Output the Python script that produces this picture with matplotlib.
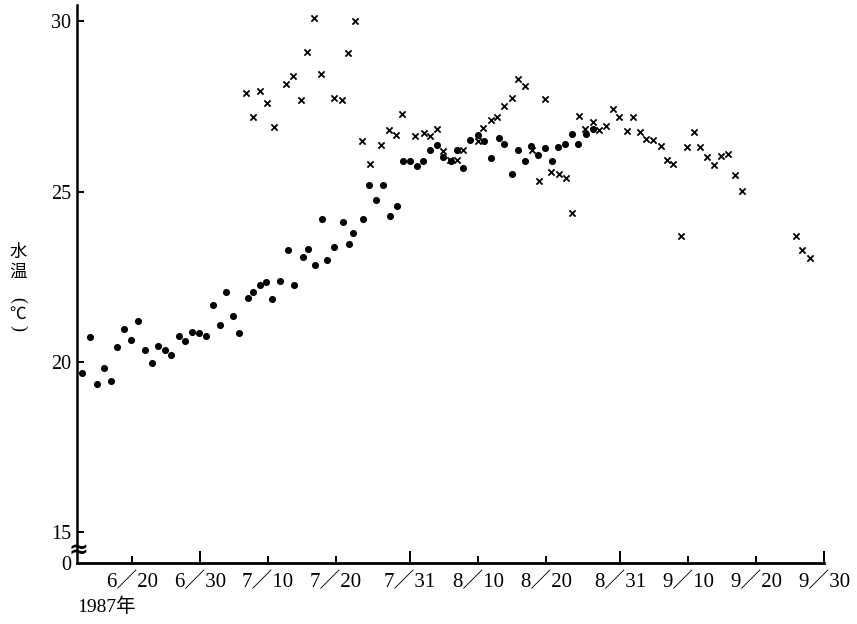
import matplotlib
matplotlib.use("Agg")
import matplotlib.pyplot as plt

plt.rcParams['font.family'] = ['Liberation Serif', 'Noto Sans CJK JP', 'DejaVu Sans']

# day offsets from June 20, 1987 ; water temperature (deg C)
dot_day = [-7.33, -6.19, -5.12, -4.13, -3.14, -2.17, -1.18, -0.10, 0.93, 1.96,
           2.90, 3.79, 4.82, 5.70, 6.88, 7.81, 8.80, 9.83, 10.86, 11.90,
           12.93, 13.86, 14.89, 15.82, 17.05, 17.88, 18.91, 19.80, 20.68, 21.86,
           23.04, 23.88, 25.16, 25.90, 27.02, 27.96, 28.79, 29.78, 31.15, 31.99,
           32.62, 34.01, 34.94, 36.01, 37.00, 38.07, 39.02, 39.99, 40.98, 41.97,
           42.89, 43.93, 44.91, 45.89, 46.95, 47.91, 48.84, 49.87, 51.00, 51.89,
           52.92, 54.10, 54.88, 56.01, 56.85, 57.93, 58.82, 59.89, 60.92, 61.87,
           62.84, 63.83, 64.81, 65.74, 66.92, 68.00]
dot_temp = [19.67, 20.73, 19.35, 19.83, 19.45, 20.43, 20.96, 20.65, 21.19, 20.35,
            19.96, 20.46, 20.34, 20.22, 20.75, 20.63, 20.87, 20.86, 20.75, 21.66,
            21.08, 22.05, 21.34, 20.85, 21.87, 22.05, 22.26, 22.36, 21.85, 22.37,
            23.29, 22.27, 23.09, 23.32, 22.85, 24.19, 22.99, 23.37, 24.11, 23.45,
            23.78, 24.20, 25.20, 24.76, 25.20, 24.29, 24.59, 25.89, 25.90, 25.76,
            25.89, 26.22, 26.37, 26.02, 25.89, 26.21, 25.70, 26.51, 26.66, 26.50,
            26.00, 26.58, 26.41, 25.53, 26.22, 25.90, 26.33, 26.09, 26.28, 25.90,
            26.30, 26.40, 26.69, 26.41, 26.69, 26.83]

cross_day = [16.80, 17.79, 18.91, 19.90, 20.93, 22.70, 23.78, 24.96, 25.80, 26.78,
             27.86, 29.78, 30.91, 31.80, 32.87, 33.86, 35.08, 36.70, 37.88, 38.92,
             39.77, 41.75, 42.97, 43.97, 44.96, 45.89, 46.84, 47.95, 48.84, 50.93,
             51.78, 52.86, 53.85, 54.79, 55.97, 56.87, 57.86, 59.01, 59.99, 60.85,
             61.76, 62.90, 63.94, 64.89, 65.92, 66.82, 68.00, 68.79, 69.90, 70.86,
             71.83, 72.89, 73.78, 74.88, 75.77, 76.84, 77.93, 78.82, 79.75, 80.88,
             81.81, 82.80, 83.77, 84.76, 85.84, 86.82, 87.85, 88.88, 89.91, 97.92,
             98.72, 99.90]
cross_temp = [27.89, 27.20, 27.96, 27.61, 26.89, 28.17, 28.39, 27.70, 29.10, 30.09,
              28.46, 27.76, 27.68, 29.08, 30.01, 26.49, 25.82, 26.36, 26.80, 26.66,
              27.29, 26.62, 26.72, 26.62, 26.83, 26.18, 25.92, 25.93, 26.21, 26.50,
              26.88, 27.10, 27.20, 27.51, 27.74, 28.30, 28.11, 26.22, 25.32, 27.71,
              25.59, 25.52, 25.41, 24.37, 27.22, 26.83, 27.04, 26.81, 26.93, 27.42,
              27.20, 26.78, 27.20, 26.75, 26.54, 26.51, 26.33, 25.94, 25.80, 23.69,
              26.31, 26.75, 26.31, 26.02, 25.79, 26.05, 26.11, 25.50, 25.01, 23.71,
              23.29, 23.04]

major_days = [10, 41, 72, 102]
major_labels = ["6／30", "7／31", "8／31", "9／30"]
minor_days = [0, 20, 30, 51, 61, 82, 92]
minor_labels = ["6／20", "7／10", "7／20", "8／10", "8／20", "9／10", "9／20"]
y_ticks = [15, 20, 25, 30]

W, H = 857, 624
fig = plt.figure(figsize=(W / 100, H / 100), dpi=100)
L, R, B, T = 77, 824, 563, 5
ax = fig.add_axes([L / W, 1 - B / H, (R - L) / W, (B - T) / H])
ax.set_xlim(-8.11, 102)
ax.set_ylim(14.10, 30.48)

ax.scatter(dot_day, dot_temp, s=26, c='black', marker='o', linewidths=0, zorder=3)
ax.scatter(cross_day, cross_temp, s=20, c='black', marker='x', linewidths=1.3, zorder=3)

for s in ['top', 'right']:
    ax.spines[s].set_visible(False)
ax.spines['left'].set_linewidth(1.8)
ax.spines['bottom'].set_linewidth(2.0)

ax.set_xticks(major_days)
ax.set_xticklabels(major_labels)
ax.set_xticks(minor_days, minor=True)
ax.set_xticklabels(minor_labels, minor=True)
ax.tick_params(axis='x', which='major', direction='in', length=9, width=1.4,
               labelsize=15, pad=7)
ax.tick_params(axis='x', which='minor', direction='in', length=5, width=1.4,
               labelsize=15, pad=7)
ax.set_yticks(y_ticks)
ax.set_yticklabels([str(v) for v in y_ticks])
ax.tick_params(axis='y', direction='in', length=5, width=1.4, labelsize=14.5, pad=4)


def px(x, y):
    return x / W, 1 - y / H


fig.text(*px(78, 550), "≈", fontsize=17, ha='center', va='center',
         family=['DejaVu Sans'], fontweight='bold')
fig.text(*px(66, 565), "0", fontsize=14.5, ha='center', va='center')
fig.text(*px(107, 607), "1987年", fontsize=14, ha='center', va='center')

for ch, yy in [("水", 252), ("温", 272)]:
    fig.text(*px(18, yy), ch, fontsize=12.5, ha='center', va='center',
             family=['Noto Sans CJK JP', 'DejaVu Sans'])
fig.text(*px(18, 300), "(", fontsize=13, ha='center', va='center', rotation=-90,
         family=['Liberation Serif'])
fig.text(*px(18, 314), "℃", fontsize=12, ha='center', va='center',
         family=['Noto Sans CJK JP', 'DejaVu Sans'])
fig.text(*px(18, 328), ")", fontsize=13, ha='center', va='center', rotation=-90,
         family=['Liberation Serif'])

fig.savefig("out.png", dpi=100)
